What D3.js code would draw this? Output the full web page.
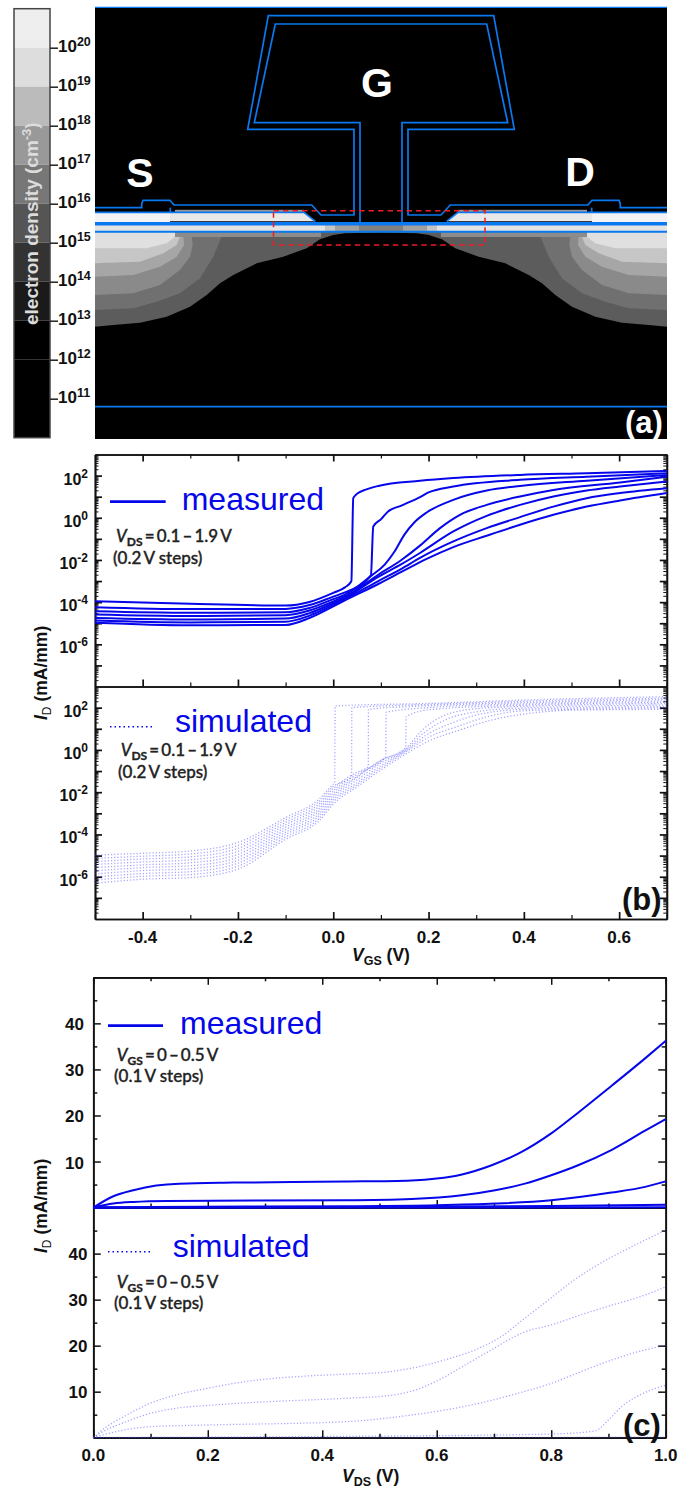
<!DOCTYPE html>
<html>
<head>
<meta charset="utf-8">
<script src="https://cdn.jsdelivr.net/npm/d3@7"></script>
<style>
  body { margin: 0; background: #fff; }
  text { font-family: "Liberation Sans", Arial, sans-serif; }
</style>
</head>
<body>
<div id="chart"></div>
<script>
// ---------- panel (a): colour bar ----------
var densityTicks = [1e20, 1e19, 1e18, 1e17, 1e16, 1e15, 1e14, 1e13, 1e12, 1e11];
var densityEdges = [1e21, 1e20, 1e19, 1e18, 1e17, 1e16, 1e15, 1e14, 1e13, 1e12, 1e10];
var densityGreys = ["#eeeeee", "#dddddd", "#bbbbbb", "#999999", "#777777", "#555555", "#333333", "#1a1a1a", "#000000", "#000000"];

// ---------- panel (a): device outline, [distance from gate centre, depth] ----------
var gateOuter = [[112.7, 8.7], [133.3, 122.3], [27, 122.3], [27, 208], [60, 208], [69.3, 198], [207, 198], [211, 193.3], [238, 193.3], [239.3, 197], [239.3, 200.7], [286, 200.7]];
var gateInner = [[105.7, 17], [126.7, 115.7], [21, 115.7], [21, 216]];
var contactStep = [[210.7, 205.3], [210.7, 200.7]];
var capTop = [[286, 205.3], [77, 205.3], [65.7, 214.3]];
var capFill = [[286, 205.3], [77, 205.3], [65.7, 214.3], [286, 214.3]];
var depletionEdge = [[0, 225.5], [36, 226.3], [47.7, 228], [61, 232.3], [74.3, 241.3], [97.7, 249.7], [124.3, 256.3], [147.7, 268], [161, 276.3], [174.3, 288], [191, 299.7], [214.3, 309.7], [241, 315.7], [267.7, 318], [286, 319.7]];
var contourLobes = [
  [[286, 303], [247.7, 301.3], [224.3, 294.7], [201, 286.3], [181, 271.3], [167.7, 249.7], [159.3, 229.7], [286, 229.7]],
  [[286, 288], [247.7, 286.3], [221, 278], [201, 263], [191, 249.7], [188.3, 238], [189.3, 229.7], [286, 229.7]],
  [[286, 269.7], [247.7, 268], [221, 259.7], [204.3, 249.7], [197, 238], [197.7, 229.7], [286, 229.7]],
  [[286, 256.3], [241, 254.7], [217.7, 246.3], [204.3, 238], [201, 229.7], [286, 229.7]],
  [[286, 241.3], [234.3, 241.3], [214.3, 236.3], [206, 229.7], [286, 229.7]]
];
var contourGreys = ["#707070", "#8a8a8a", "#a6a6a6", "#c6c6c6", "#e0e0e0"];
// channel strips: [from, to, top depth, bottom depth]
var channelStrips = [[56, 286, 218, 225], [46, 56, 218, 225], [22, 46, 218, 225], [0, 22, 218, 225], [60, 206, 225, 230], [206, 286, 225, 230], [77, 206, 202.8, 205.3], [211, 286, 206, 215]];
var channelGreys = ["#e4e4e4", "#c4c4c4", "#a0a0a0", "#808080", "#8c8c8c", "#e0e0e0", "#999999", "#f3f3f3"];
var dashBox = [[-107.5, 203.7], [104, 203.7], [104, 238], [-107.5, 238]];

// ---------- panel (b): measured, [Vgs, log10 Id] ----------
var measuredB = [
  [[-.5, -3.96], [-.3, -4.08], [-.1, -4.16], [-.05, -3.99], [0, -3.56], [.0245, -3.30], [.038, -3.01], [.042, .93], [.049, 1.12], [.0665, 1.32], [.0945, 1.51], [.182, 1.75], [.252, 1.88], [.392, 2.03], [.532, 2.11], [.7, 2.22]],
  [[-.5, -4.24], [-.3, -4.33], [-.1, -4.32], [-.05, -4.14], [0, -3.74], [.0245, -3.54], [.079, -2.73], [.084, -.41], [.101, -.05], [.115, .30], [.143, .58], [.182, .98], [.2, 1.2], [.252, 1.48], [.392, 1.8], [.532, 1.95], [.7, 2.11]],
  [[-.5, -4.43], [-.3, -4.5], [-.1, -4.48], [-.05, -4.28], [0, -3.86], [.0245, -3.65], [.0805, -2.74], [.108, -2.22], [.129, -1.59], [.149, -.81], [.171, -.2], [.196, .25], [.252, .85], [.322, 1.29], [.392, 1.51], [.532, 1.76], [.7, 2.03]],
  [[-.5, -4.59], [-.3, -4.66], [-.1, -4.62], [-.05, -4.4], [0, -3.97], [.0245, -3.74], [.0945, -2.7], [.143, -2.0], [.182, -1.32], [.224, -.49], [.266, .14], [.322, .61], [.392, 1.01], [.462, 1.32], [.602, 1.67], [.7, 1.95]],
  [[-.5, -4.75], [-.3, -4.82], [-.1, -4.78], [-.05, -4.52], [0, -4.05], [.0245, -3.80], [.0945, -2.8], [.143, -2.2], [.182, -1.67], [.252, -.65], [.322, .09], [.392, .61], [.462, 1.01], [.532, 1.29], [.602, 1.48], [.7, 1.72]],
  [[-.5, -4.87], [-.3, -4.96], [-.1, -4.93], [-.05, -4.64], [0, -4.13], [.0245, -3.86], [.0945, -3.0], [.143, -2.42], [.182, -1.9], [.252, -1.12], [.322, -.49], [.392, .03], [.462, .53], [.532, .93], [.602, 1.17], [.7, 1.40]],
  [[-.5, -4.98], [-.3, -5.1], [-.1, -5.08], [-.05, -4.75], [0, -4.2], [.0245, -3.92], [.0945, -3.14], [.143, -2.57], [.196, -1.95], [.252, -1.39], [.322, -.85], [.392, -.33], [.462, .14], [.532, .53], [.602, .82], [.7, 1.17]]
];

// ---------- panel (b): simulated, [Vgs, log10 Id] ----------
var simulatedB = [
  [[-.5, -4.98], [-.4, -4.89], [-.3, -4.78], [-.2, -4.38], [-.1, -3.20], [-.03, -2.33], [0, -1.62], [.003, -1.55], [.004, 2.08], [.2, 2.2], [.4, 2.36], [.7, 2.52]],
  [[-.5, -5.13], [-.4, -5.03], [-.3, -4.92], [-.2, -4.52], [-.1, -3.31], [-.03, -2.44], [0, -1.73], [.0385, -1.25], [.039, 2.0], [.2, 2.15], [.4, 2.3], [.7, 2.45]],
  [[-.5, -5.28], [-.4, -5.16], [-.3, -5.06], [-.2, -4.66], [-.1, -3.43], [-.03, -2.56], [0, -1.83], [.05, -1.05], [.0735, -.8], [.074, 1.92], [.2, 2.09], [.4, 2.24], [.7, 2.39]],
  [[-.5, -5.42], [-.4, -5.30], [-.3, -5.20], [-.2, -4.80], [-.1, -3.54], [-.03, -2.67], [0, -1.94], [.05, -1.15], [.11, -.32], [.111, 1.78], [.2, 2.0], [.4, 2.18], [.7, 2.32]],
  [[-.5, -5.57], [-.4, -5.44], [-.3, -5.34], [-.2, -4.94], [-.1, -3.66], [-.03, -2.79], [0, -2.04], [.05, -1.25], [.1, -.5], [.152, .11], [.153, 1.57], [.2, 1.9], [.4, 2.12], [.7, 2.25]],
  [[-.5, -5.72], [-.4, -5.57], [-.3, -5.48], [-.2, -5.08], [-.1, -3.77], [-.03, -2.90], [0, -2.15], [.05, -1.3], [.1, -.5], [.152, .05], [.185, .9], [.23, 1.6], [.3, 1.95], [.4, 2.06], [.7, 2.19]],
  [[-.5, -5.87], [-.4, -5.71], [-.3, -5.62], [-.2, -5.22], [-.1, -3.89], [-.03, -3.02], [0, -2.25], [.05, -1.42], [.1, -.62], [.152, .0], [.19, .8], [.235, 1.42], [.3, 1.8], [.4, 1.99], [.7, 2.12]],
  [[-.5, -6.02], [-.4, -5.85], [-.3, -5.76], [-.2, -5.36], [-.1, -4.00], [-.03, -3.13], [0, -2.36], [.05, -1.55], [.1, -.75], [.152, -.05], [.195, .7], [.25, 1.28], [.31, 1.7], [.4, 1.92], [.7, 2.05]],
  [[-.5, -6.16], [-.4, -5.98], [-.3, -5.90], [-.2, -5.50], [-.1, -4.12], [-.03, -3.25], [0, -2.46], [.05, -1.65], [.1, -.85], [.152, -.1], [.2, .6], [.26, 1.1], [.32, 1.55], [.4, 1.85], [.7, 1.99]],
  [[-.5, -6.31], [-.4, -6.12], [-.3, -6.04], [-.2, -5.64], [-.1, -4.23], [-.03, -3.36], [0, -2.57], [.05, -1.75], [.1, -.95], [.152, -.2], [.2, .42], [.26, .9], [.33, 1.4], [.42, 1.75], [.5, 1.88], [.7, 1.92]]
];

// ---------- panel (c): [Vds, Id] ----------
var measuredC = [
  [[0, 0], [.035, 2.46], [.07, 3.77], [.11, 4.78], [.15, 5.2], [.245, 5.43], [.44, 5.65], [.556, 5.9], [.6, 6.3], [.644, 7.2], [.696, 9.2], [.7425, 11.7], [.8, 16.1], [.847, 20.6], [.905, 26.4], [.964, 32.4], [1, 36.2]],
  [[0, 0], [.035, .87], [.07, 1.23], [.128, 1.45], [.44, 1.6], [.556, 1.88], [.644, 2.68], [.702, 3.77], [.754, 5.2], [.8, 7.03], [.847, 9.2], [.905, 12.5], [.964, 16.7], [1, 19.2]],
  [[0, 0], [.1, .15], [.44, .29], [.6, .5], [.702, .87], [.8, 1.6], [.905, 3.26], [.964, 4.5], [1, 5.7]],
  [[0, 0], [.6, .2], [.8, .35], [1, .6]],
  [[0, 0], [1, .05]]
];
var simulatedC = [
  [[0, 0], [.0116, 1.3], [.058, 4.9], [.1, 7.5], [.145, 9.3], [.198, 10.7], [.245, 11.8], [.3, 12.7], [.36, 13.3], [.44, 13.8], [.498, 14.1], [.556, 15.1], [.614, 16.9], [.673, 19.4], [.713, 22], [.754, 26], [.795, 29.9], [.836, 33.9], [.871, 36.8], [.906, 39.3], [.952, 42.2], [1, 45.1]],
  [[0, 0], [.0116, .94], [.058, 3.5], [.1, 5.3], [.145, 6.4], [.198, 7], [.3, 7.8], [.44, 8.55], [.515, 9.13], [.556, 10.1], [.603, 12.5], [.644, 15.4], [.69, 18.7], [.754, 23], [.8, 24.5], [.859, 27], [.917, 29.2], [.964, 31], [1, 32.8]],
  [[0, 0], [.0116, .43], [.1, 2.4], [.198, 2.75], [.44, 3.48], [.556, 4.93], [.614, 6], [.673, 7.46], [.731, 9.28], [.8, 11.8], [.859, 14.7], [.906, 16.9], [.952, 18.7], [1, 20.1]],
  [[0, 0], [.44, .29], [.8, .8], [.876, 1.45], [.9, 3.84], [.923, 6.74], [.952, 9.1], [1, 11.4]],
  [[0, .05], [1, .1]]
];

var vgsMajor = [-.4, -.2, 0, .2, .4, .6];
var vgsMinor = [-.5, -.3, -.1, .1, .3, .5, .7];
var vdsMajor = [0, .2, .4, .6, .8, 1];
var vdsMinor = [.1, .3, .5, .7, .9];
var decadeLabels = [2, 0, -2, -4, -6];
var linearLabels = [10, 20, 30, 40];

var BLUE = "#0606ea";
var DEVICE_BLUE = "#0a78f0";
var INK = "#111";

var svg = d3.select("#chart").append("svg")
    .attr("width", 691)
    .attr("height", 1488);

// small helper for mixed italic / sub / superscript runs
function rich(x, y, parts, opts) {
    opts = opts || {};
    var t = svg.append("text")
        .attr("x", x)
        .attr("y", y)
        .attr("font-size", opts.size || 17)
        .attr("font-weight", opts.weight || "bold")
        .attr("fill", opts.fill || INK)
        .attr("text-anchor", opts.anchor || "start");
    if (opts.font) t.style("font-family", opts.font);
    if (opts.stroke) t.attr("stroke", opts.fill || INK).attr("stroke-width", opts.stroke);
    if (opts.rotate) t.attr("transform", "rotate(-90," + x + "," + y + ")");
    var shift = 0;
    parts.forEach(function (p) {
        var s = t.append("tspan").text(p.t);
        var want = p.dy || 0;
        if (want !== shift) s.attr("dy", want - shift);
        shift = want;
        if (p.size) s.attr("font-size", p.size);
        if (p.italic) s.attr("font-style", "italic");
        if (p.weight) s.attr("font-weight", p.weight);
    });
    return t;
}

function callAxis(axis, x, y, width) {
    svg.append("g")
        .attr("transform", "translate(" + x + "," + y + ")")
        .call(axis.tickFormat("").tickSizeOuter(0))
        .call(function (g) {
            g.select(".domain").attr("stroke", INK).attr("stroke-width", 1.7);
            g.selectAll(".tick line").attr("stroke", INK).attr("stroke-width", width);
        });
}

// ############################################################
// PANEL (a)
// ############################################################
var devX = d3.scaleLinear().domain([-286, 286]).range([95, 667]);
var devY = d3.scaleLinear().domain([0, 432]).range([7, 439]);
var devLine = d3.line().x(function (d) { return devX(d[0]); }).y(function (d) { return devY(d[1]); });
function flip(pts) { return pts.map(function (d) { return [-d[0], d[1]]; }); }
function both(pts) { return flip(pts).reverse().concat(pts); }

var densityY = d3.scaleLog().domain([1e21, 1e10]).range([8.7, 437.7]);

svg.selectAll(".band")
    .data(densityGreys)
    .enter().append("rect")
    .attr("x", 14)
    .attr("width", 36)
    .attr("y", function (d, i) { return densityY(densityEdges[i]); })
    .attr("height", function (d, i) { return densityY(densityEdges[i + 1]) - densityY(densityEdges[i]); })
    .attr("fill", function (d) { return d; });
svg.append("rect")
    .attr("x", 14).attr("y", 8.7).attr("width", 36).attr("height", 429)
    .attr("fill", "none").attr("stroke", "#444").attr("stroke-width", 1.5);

svg.append("g")
    .attr("transform", "translate(50,0)")
    .call(d3.axisRight(densityY).tickValues(densityTicks).tickSize(8).tickFormat("").tickSizeOuter(0))
    .call(function (g) {
        g.select(".domain").remove();
        g.selectAll(".tick line").attr("stroke", "#222").attr("stroke-width", 1.5);
    });

densityTicks.forEach(function (v) {
    rich(58, densityY(v) + 4, [{ t: "10" }, { t: String(Math.round(Math.log10(v))), size: 12.5, dy: -6 }], { size: 17 });
});

rich(38, 325, [{ t: "electron density (cm" }, { t: "-3", size: 13, dy: -7 }, { t: ")" }], { size: 19, rotate: true, fill: "#dcdcdc" });

// device background and contours
svg.append("rect")
    .attr("x", devX(-286)).attr("y", devY(0))
    .attr("width", devX(286) - devX(-286)).attr("height", devY(432) - devY(0))
    .attr("fill", "#000");

svg.append("path")
    .attr("d", devLine(both(depletionEdge)) + "L" + devX(286) + "," + devY(225) + "L" + devX(-286) + "," + devY(225) + "Z")
    .attr("fill", "#5c5c5c");

contourLobes.forEach(function (lobe, i) {
    [lobe, flip(lobe)].forEach(function (pts) {
        svg.append("path").attr("d", devLine(pts) + "Z").attr("fill", contourGreys[i]);
    });
});

channelStrips.forEach(function (s, i) {
    [1, -1].forEach(function (side) {
        var x0 = devX(side * s[0]), x1 = devX(side * s[1]);
        svg.append("rect")
            .attr("x", Math.min(x0, x1)).attr("width", Math.abs(x1 - x0))
            .attr("y", devY(s[2])).attr("height", devY(s[3]) - devY(s[2]))
            .attr("fill", channelGreys[i]);
    });
    if (i === 6) {
        [capFill, flip(capFill)].forEach(function (pts) {
            svg.append("path").attr("d", devLine(pts) + "Z").attr("fill", "#e8e8e8");
        });
    }
});

// blue outlines
[[both(gateOuter), 1.7], [both(gateInner), 1.7], [contactStep, 1.7], [flip(contactStep), 1.7], [capTop, 1.7], [flip(capTop), 1.7],
 [[[-286, 216.7], [286, 216.7]], 3.6], [[[-286, 224.7], [286, 224.7]], 2], [[[-286, 399.7], [286, 399.7]], 1.7], [[[-286, 0.4], [286, 0.4]], 1.2]
].forEach(function (d) {
    svg.append("path")
        .attr("d", devLine(d[0]))
        .attr("fill", "none")
        .attr("stroke", DEVICE_BLUE)
        .attr("stroke-width", d[1]);
});

svg.append("path")
    .attr("d", devLine(dashBox) + "Z")
    .attr("fill", "none")
    .attr("stroke", "#ec1c24")
    .attr("stroke-width", 1.5)
    .attr("stroke-dasharray", "5.5 4");

[["S", 140, 187], ["G", 377, 97], ["D", 580, 186]].forEach(function (d) {
    svg.append("text").attr("x", d[1]).attr("y", d[2]).attr("text-anchor", "middle")
        .attr("font-size", 41).attr("font-weight", "bold").attr("fill", "#fff").text(d[0]);
});
rich(625, 433, [{ t: "(a)" }], { size: 31, fill: "#fff" });

// ############################################################
// PANEL (b)
// ############################################################
var xB = d3.scaleLinear().domain([-.5, .7]).range([95, 666.8]);
var yB1 = d3.scaleLog().domain([1e-8, 1e3]).range([686.5, 454.5]);
var yB2 = d3.scaleLog().domain([1e-8, 1e3]).range([919, 686.5]);
var logMajor = d3.range(-7, 3).map(function (e) { return Math.pow(10, e); });
var logMinor = [];
d3.range(-8, 3).forEach(function (e) {
    d3.range(2, 10).forEach(function (m) { logMinor.push(m * Math.pow(10, e)); });
});

function logLine(scale) {
    return d3.line()
        .x(function (d) { return xB(d[0]); })
        .y(function (d) { return scale(Math.pow(10, d[1])); })
        .curve(d3.curveMonotoneX);
}

[yB1, yB2].forEach(function (scale) {
    callAxis(d3.axisLeft(scale).tickValues(logMajor).tickSize(-7), 95, 0, 1.7);
    callAxis(d3.axisLeft(scale).tickValues(logMinor).tickSize(-3.5), 95, 0, 1);
    callAxis(d3.axisRight(scale).tickValues(logMajor).tickSize(-7), 666.8, 0, 1.7);
    callAxis(d3.axisRight(scale).tickValues(logMinor).tickSize(-3.5), 666.8, 0, 1);
    decadeLabels.forEach(function (e) {
        rich(88, scale(Math.pow(10, e)) + 9, [{ t: "10" }, { t: String(e), size: 12, dy: -7 }], { size: 16, anchor: "end" });
    });
});
callAxis(d3.axisTop(xB).tickValues(vgsMajor).tickSize(-7), 0, 454.5, 1.7);
callAxis(d3.axisTop(xB).tickValues(vgsMinor).tickSize(-4), 0, 454.5, 1.2);
callAxis(d3.axisBottom(xB).tickValues(vgsMajor).tickSize(-7), 0, 686.5, 1.7);
callAxis(d3.axisBottom(xB).tickValues(vgsMinor).tickSize(-4), 0, 686.5, 1.2);
callAxis(d3.axisBottom(xB).tickValues(vgsMajor).tickSize(-7), 0, 919, 1.7);
callAxis(d3.axisBottom(xB).tickValues(vgsMinor).tickSize(-4), 0, 919, 1.2);

vgsMajor.forEach(function (v) {
    rich(xB(v), 943, [{ t: v.toFixed(1) }], { size: 17, anchor: "middle" });
});

measuredB.forEach(function (c) {
    svg.append("path").attr("d", logLine(yB1)(c))
        .attr("fill", "none").attr("stroke", BLUE).attr("stroke-width", 2);
});
simulatedB.forEach(function (c) {
    svg.append("path").attr("d", logLine(yB2)(c))
        .attr("fill", "none").attr("stroke", "#3a3aff").attr("stroke-opacity", .45)
        .attr("stroke-width", 1.3).attr("stroke-dasharray", "1.2 2");
});

var CALIBRI = "Lato, 'Open Sans', sans-serif";

function legend(x0, x1, yLine, xText, yText, label, dotted) {
    svg.append("line")
        .attr("x1", x0).attr("x2", x1).attr("y1", yLine).attr("y2", yLine)
        .attr("stroke", BLUE)
        .attr("stroke-width", dotted ? 1.5 : 2.8)
        .attr("stroke-dasharray", dotted ? "1.5 3" : null);
    svg.append("text").attr("x", xText).attr("y", yText)
        .attr("font-size", 32).attr("fill", BLUE).text(label);
}
function note(x, y, xStep, yStep, sub, range, step) {
    rich(x, y, [{ t: "V", italic: true }, { t: sub, size: 12, dy: 4, weight: "bold" }, { t: "\u2009=\u2009" + range }],
        { size: 17, weight: "500", font: CALIBRI, fill: "#222", stroke: .35 });
    rich(xStep, yStep, [{ t: step }], { size: 17, weight: "500", font: CALIBRI, fill: "#222", stroke: .35 });
}

legend(110, 165.7, 501.7, 181.7, 510, "measured", false);
note(116, 542, 113, 564, "DS", "0.1\u2009\u2013\u20091.9\u2009V", "(0.2\u2009V steps)");
legend(110, 153, 726.7, 175, 731.7, "simulated", true);
note(120.7, 756, 118, 778, "DS", "0.1\u2009\u2013\u20091.9\u2009V", "(0.2\u2009V steps)");

rich(352, 961, [{ t: "V", italic: true }, { t: "GS", size: 12.5, dy: 4 }, { t: " (V)" }], { size: 17.5 });
rich(47, 720, [{ t: "I", italic: true }, { t: "D", size: 12, dy: 4, weight: "normal" }, { t: " (mA/mm)" }], { size: 17.5, rotate: true });
rich(622, 910, [{ t: "(b)" }], { size: 31 });

// ############################################################
// PANEL (c)
// ############################################################
var xC = d3.scaleLinear().domain([0, 1]).range([93.3, 665.7]);
var yC1 = d3.scaleLinear().domain([0, 50]).range([1207.6, 977.3]);
var yC2 = d3.scaleLinear().domain([0, 50]).range([1437.7, 1207.6]);
var linMajor = [10, 20, 30, 40];
var linMinor = [5, 15, 25, 35, 45];

function idLine(scale) {
    return d3.line()
        .x(function (d) { return xC(d[0]); })
        .y(function (d) { return scale(d[1]); })
        .curve(d3.curveMonotoneX);
}

[yC1, yC2].forEach(function (scale) {
    callAxis(d3.axisLeft(scale).tickValues(linMajor).tickSize(-7.5), 93.3, 0, 1.5);
    callAxis(d3.axisLeft(scale).tickValues(linMinor).tickSize(-4), 93.3, 0, 1.5);
    callAxis(d3.axisRight(scale).tickValues(linMajor).tickSize(-7.5), 665.7, 0, 1.5);
    callAxis(d3.axisRight(scale).tickValues(linMinor).tickSize(-4), 665.7, 0, 1.5);
});
callAxis(d3.axisTop(xC).tickValues(vdsMajor).tickSize(-7.5), 0, 977.3, 1.5);
callAxis(d3.axisTop(xC).tickValues(vdsMinor).tickSize(-4), 0, 977.3, 1.5);
callAxis(d3.axisBottom(xC).tickValues(vdsMajor).tickSize(-7.5), 0, 1207.6, 1.5);
callAxis(d3.axisBottom(xC).tickValues(vdsMinor).tickSize(-4), 0, 1207.6, 1.5);
callAxis(d3.axisBottom(xC).tickValues(vdsMajor).tickSize(-7.5), 0, 1437.7, 1.5);
callAxis(d3.axisBottom(xC).tickValues(vdsMinor).tickSize(-4), 0, 1437.7, 1.5);

linearLabels.forEach(function (v) {
    rich(84, yC1(v) + 7, [{ t: String(v) }], { size: 17, anchor: "end" });
    rich(87.5, yC2(v) + 6, [{ t: String(v) }], { size: 17, anchor: "end" });
});
vdsMajor.forEach(function (v) {
    rich(xC(v), 1461, [{ t: v.toFixed(1) }], { size: 17, anchor: "middle" });
});

measuredC.forEach(function (c) {
    svg.append("path").attr("d", idLine(yC1)(c))
        .attr("fill", "none").attr("stroke", BLUE).attr("stroke-width", 2);
});
simulatedC.forEach(function (c) {
    svg.append("path").attr("d", idLine(yC2)(c))
        .attr("fill", "none").attr("stroke", "#3a3aff").attr("stroke-opacity", .45)
        .attr("stroke-width", 1.3).attr("stroke-dasharray", "1.2 2");
});

legend(108, 163, 1025.7, 180, 1034, "measured", false);
note(116.7, 1060.7, 114, 1082, "GS", "0\u2009\u2013\u20090.5\u2009V", "(0.1\u2009V steps)");
legend(108, 151.7, 1251.7, 172.7, 1256.7, "simulated", true);
note(116.7, 1287.7, 114, 1309, "GS", "0\u2009\u2013\u20090.5\u2009V", "(0.1\u2009V steps)");

rich(342, 1482, [{ t: "V", italic: true }, { t: "DS", size: 12.5, dy: 4 }, { t: " (V)" }], { size: 17.5 });
rich(47, 1253, [{ t: "I", italic: true }, { t: "D", size: 12, dy: 4, weight: "normal" }, { t: " (mA/mm)" }], { size: 17.5, rotate: true });
rich(623, 1436, [{ t: "(c)" }], { size: 31 });
</script>
</body>
</html>
